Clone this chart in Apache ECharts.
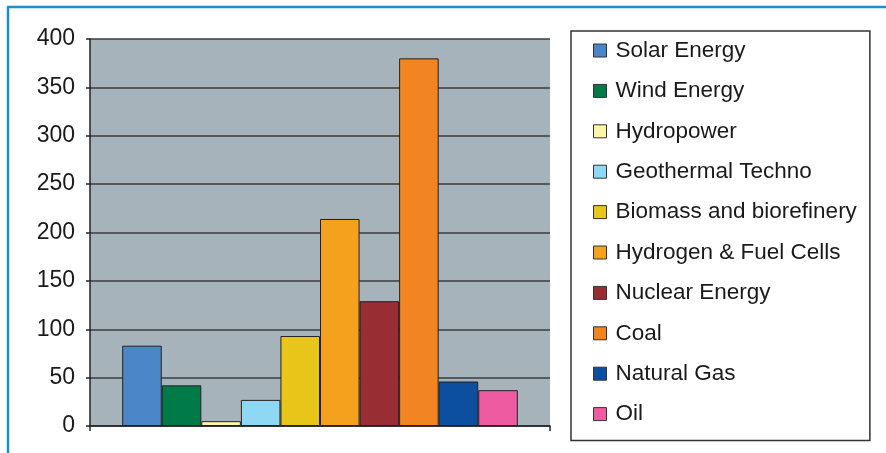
<!DOCTYPE html>
<html>
<head>
<meta charset="utf-8">
<title>energy bars</title>
<script src="https://cdn.jsdelivr.net/npm/echarts@6/dist/echarts.min.js"></script>
<style>
  html, body { margin: 0; padding: 0; background: #fff; }
  #chart { width: 886px; height: 453px; }
</style>
</head>
<body>
<div id="chart"></div>
<script>
// data
var categories = ['']
var seriesNames = ['Solar Energy', 'Wind Energy', 'Hydropower', 'Geothermal Techno', 'Biomass and biorefinery',
  'Hydrogen & Fuel Cells', 'Nuclear Energy', 'Coal', 'Natural Gas', 'Oil']
var seriesValues = [83, 42, 5, 27, 93, 214, 129, 380, 46, 37]
var seriesColors = ['#4a86c8', '#007a47', '#fff5a8', '#8fd8f5', '#e8c619',
  '#f6a11e', '#982d34', '#f28421', '#0c4fa0', '#ef5ba1']
var yTicks = [0, 50, 100, 150, 200, 250, 300, 350, 400]

var chart = echarts.init(document.getElementById('chart'))

var series = []
seriesNames.map(function (name, i) {
  series.push({
    name: name,
    type: 'bar',
    barGap: '0%',
    barCategoryGap: '14%',
    itemStyle: {
      color: seriesColors[i],
      borderColor: '#222',
      borderWidth: 1
    },
    data: [seriesValues[i]],
    animation: false
  })
})

var font = 'Liberation Sans, Arial, sans-serif'

var options = {
  backgroundColor: '#fff',
  graphic: [
    // blue frame on top and left
    { type: 'line', shape: { x1: 7, y1: 7, x2: 886, y2: 7 }, style: { stroke: '#1a8fd1', lineWidth: 2.5 } },
    { type: 'line', shape: { x1: 8, y1: 7, x2: 8, y2: 453 }, style: { stroke: '#1a8fd1', lineWidth: 2.5 } }
  ],
  grid: {
    left: 90,
    right: 336,
    top: 39,
    bottom: 27,
    show: true,
    backgroundColor: '#a7b3bb',
    borderWidth: 0
  },
  legend: {
    orient: 'vertical',
    left: 571,
    top: 31,
    padding: [8, 13, 15, 22],
    itemGap: 17.4,
    itemWidth: 13,
    itemHeight: 13,
    borderColor: '#333',
    borderWidth: 1.5,
    icon: 'rect',
    data: seriesNames.map(function (n, i) {
      return { name: n, itemStyle: { borderColor: '#333', borderWidth: 1 } }
    }),
    textStyle: {
      fontFamily: font,
      fontSize: 22.5,
      lineHeight: 22.5,
      color: '#1a1a1a',
      padding: [0, 0, 0, 4]
    }
  },
  xAxis: {
    type: 'category',
    data: categories,
    axisLine: { show: true, lineStyle: { color: '#222', width: 1.5 } },
    axisTick: { show: true, length: 5, lineStyle: { color: '#222', width: 1.5 } },
    axisLabel: { show: false },
    splitLine: { show: false }
  },
  yAxis: {
    type: 'value',
    min: yTicks[0],
    max: yTicks[yTicks.length - 1],
    interval: 50,
    axisLine: { show: true, lineStyle: { color: '#222', width: 1.5 } },
    axisTick: { show: true, length: 4, lineStyle: { color: '#222', width: 1.5 } },
    axisLabel: {
      fontFamily: font,
      fontSize: 23,
      color: '#1a1a1a',
      margin: 15
    },
    splitLine: { show: true, lineStyle: { color: '#3a3d40', width: 1.5 } }
  },
  series: series
}
chart.setOption(options, true)
</script>
</body>
</html>
